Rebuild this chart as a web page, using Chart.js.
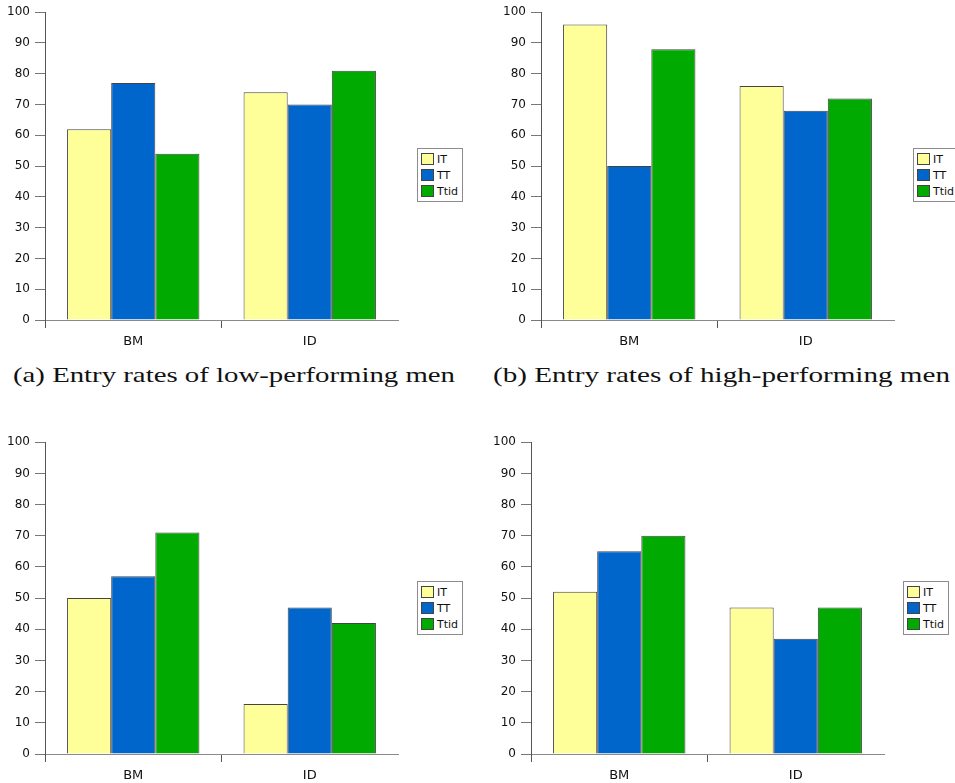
<!DOCTYPE html>
<html>
<head>
<meta charset="utf-8">
<script src="https://cdn.jsdelivr.net/npm/chart.js@4"></script>
<style>
    body { margin: 0; background: #fff; }
    #page { position: relative; width: 955px; height: 783px; overflow: hidden; }
    canvas { position: absolute; }
    .legend {
        position: absolute;
        background: #fff;
        border: 1px solid #8c8c8c;
        padding: 2px 4px 2px 3px;
        font: 11px "DejaVu Sans", sans-serif;
        color: #111;
    }
    .legend .item { display: flex; align-items: center; height: 16px; }
    .legend .swatch { width: 11px; height: 10px; border: 1px solid #444; margin-right: 3px; }
    .caption {
        position: absolute;
        font: 21px "Liberation Serif", serif;
        white-space: nowrap;
        transform-origin: left top;
        color: #111;
    }
</style>
</head>
<body>
<div id="page">
    <canvas id="chartA" width="420" height="352" style="left:0;top:0"></canvas>
    <canvas id="chartB" width="420" height="352" style="left:496px;top:0"></canvas>
    <canvas id="chartC" width="420" height="353" style="left:0;top:430px"></canvas>
    <canvas id="chartD" width="420" height="353" style="left:486px;top:430px"></canvas>
    <div class="legend" id="legendA" style="left:417px;top:148px"></div>
    <div class="legend" id="legendB" style="left:913px;top:148px"></div>
    <div class="legend" id="legendC" style="left:417px;top:581px"></div>
    <div class="legend" id="legendD" style="left:903px;top:581px"></div>
    <div class="caption" id="captionA" style="left:13px;top:363px" data-width="442">(a) Entry rates of low-performing men</div>
    <div class="caption" id="captionB" style="left:493px;top:363px" data-width="457">(b) Entry rates of high-performing men</div>
</div>
<script>
const categories = ["BM", "ID"];
const seriesNames = ["IT", "TT", "Ttid"];

// (a) low-performing men
const lowMenIT = [62, 74];
const lowMenTT = [77, 70];
const lowMenTtid = [54, 81];

// (b) high-performing men
const highMenIT = [96, 76];
const highMenTT = [50, 68];
const highMenTtid = [88, 72];

// (c) bottom left panel
const panelCIT = [50, 16];
const panelCTT = [57, 47];
const panelCTtid = [71, 42];

// (d) bottom right panel
const panelDIT = [52, 47];
const panelDTT = [65, 37];
const panelDTtid = [70, 47];

const seriesColors = ["#FFFF99", "#0066CC", "#00AA00"];

Chart.defaults.font.family = "'DejaVu Sans', sans-serif";
Chart.defaults.color = "#111";

const htmlLegend = {
    id: "htmlLegend",
    afterUpdate(chart, args, opts) {
        const box = document.getElementById(opts.containerID);
        box.innerHTML = "";
        chart.data.datasets.forEach(ds => {
            const row = document.createElement("div");
            row.className = "item";
            const swatch = document.createElement("span");
            swatch.className = "swatch";
            swatch.style.background = ds.backgroundColor;
            const label = document.createElement("span");
            label.textContent = ds.label;
            row.append(swatch, label);
            box.append(row);
        });
    }
};

function makeChart(canvasId, legendId, values, padTop, xHeight) {
    const datasets = values.map((data, i) => ({
        label: seriesNames[i],
        data: data,
        backgroundColor: seriesColors[i],
        borderColor: "#444",
        borderWidth: 1,
        categoryPercentage: 0.75,
        barPercentage: 1
    }));

    return new Chart(document.getElementById(canvasId), {
        type: "bar",
        data: { labels: categories, datasets: datasets },
        plugins: [htmlLegend],
        options: {
            responsive: false,
            animation: false,
            layout: { padding: { top: padTop, right: 22, left: 0, bottom: 0 } },
            plugins: {
                legend: { display: false },
                tooltip: { enabled: false },
                htmlLegend: { containerID: legendId }
            },
            scales: {
                x: {
                    afterFit: scale => { scale.height = xHeight; },
                    border: { display: true, color: "#8a8a8a", width: 1 },
                    grid: {
                        offset: true,
                        drawOnChartArea: false,
                        tickLength: 8,
                        color: ctx => ctx.type === "tick" ? "#555" : "rgba(0,0,0,0)"
                    },
                    ticks: { font: { size: 13 }, padding: 6 }
                },
                y: {
                    min: 0,
                    max: 100,
                    afterFit: scale => { scale.width = 45; },
                    border: { display: true, color: "#555", width: 1 },
                    grid: { drawOnChartArea: false, tickLength: 10, color: "#777" },
                    ticks: { stepSize: 10, font: { size: 12 }, padding: 5 }
                }
            }
        }
    });
}

makeChart("chartA", "legendA", [lowMenIT, lowMenTT, lowMenTtid], 8, 32);
makeChart("chartB", "legendB", [highMenIT, highMenTT, highMenTtid], 8, 32);
makeChart("chartC", "legendC", [panelCIT, panelCTT, panelCTtid], 10, 29);
makeChart("chartD", "legendD", [panelDIT, panelDTT, panelDTtid], 10, 29);

// stretch the captions to the width of the original serif type
document.querySelectorAll(".caption").forEach(el => {
    const target = parseFloat(el.dataset.width);
    const w = el.getBoundingClientRect().width;
    el.style.transform = `scaleX(${target / w})`;
});
</script>
</body>
</html>
